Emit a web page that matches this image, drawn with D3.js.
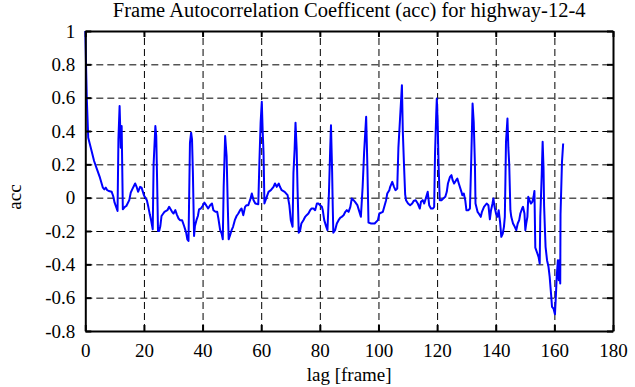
<!DOCTYPE html>
<html><head><meta charset="utf-8">
<script src="https://cdn.jsdelivr.net/npm/d3@7"></script>
<style>body{margin:0;background:#fff} text{font-family:'Liberation Serif','Times New Roman',serif;}</style>
</head><body>
<svg id="c" width="635" height="387"></svg>
<script>
const lags = [0,0.5,1,2,3,4,5,6,6.5,7,7.5,8,9,9.5,10,11,11.3,11.7,12.1,12.4,12.8,13.5,14,15,15.5,16,17,17.5,18,18.7,19.2,20,21,21.5,22,22.5,23,23.3,23.9,24.2,24.5,24.8,25.2,25.6,26,26.6,27,28,28.6,29.6,30.1,30.7,31.2,31.8,32.3,33,33.7,34.4,34.8,35.2,35.7,36.1,36.4,36.7,37.1,37.4,38,38.4,38.8,39.4,40,40.6,41.2,41.9,42.6,43.2,43.7,44.4,45,45.4,46,46.5,46.9,47.2,47.7,48.2,48.6,48.9,49.3,49.9,50.4,51,51.6,52.2,52.8,53.3,53.9,54.5,55,55.6,56.2,56.8,57.4,58,59,59.4,59.8,60.2,60.5,60.8,61.1,61.8,62.5,63.3,64.2,64.7,65.3,66,66.4,67,68,69,69.6,70.1,70.7,71,71.4,71.7,72.1,72.4,72.8,73.3,73.7,74.4,75,75.5,76.1,76.7,77.2,77.8,78.4,79,79.5,80.1,80.7,81,81.5,82.2,82.6,83.1,83.5,83.8,84.2,84.4,84.6,85.2,85.8,86.4,87,87.5,88.1,88.7,89.2,89.8,90.4,90.9,91.5,92,92.8,93.5,94,94.6,95.1,95.8,96.2,96.6,97.5,98.7,99.8,100.3,101.5,102.6,103,103.7,104,104.7,105.3,105.8,106.4,106.8,107.2,107.6,108,108.3,108.7,109.1,109.4,110.1,110.8,111.5,112,112.7,113.4,114.1,114.5,115.1,115.6,116.3,116.8,117.3,117.9,118.6,119,119.3,119.7,119.9,120.2,120.5,120.9,121.5,122.1,122.8,123.3,123.7,124.4,124.9,125.3,125.8,126.5,126.9,127.4,128.3,128.6,129.1,129.6,130,130.7,131.2,131.6,132.1,132.5,132.9,133.1,133.8,134.2,134.9,135.3,136,136.9,137.5,138,138.4,138.9,139.2,139.6,140.1,140.6,141,141.5,141.9,142.4,142.8,143.1,143.3,143.5,144,144.3,144.6,145,145.3,145.9,146.5,147,147.5,148,148.4,149,149.3,149.8,150.1,150.4,150.8,151.1,151.5,152,152.5,152.9,153.2,153.5,153.8,154.2,154.6,155,155.2,155.7,156,156.3,156.5,156.8,157,157.5,158,158.4,158.9,159.2,159.7,160.2,160.5,160.8,161.2,161.5,161.7,162,162.1,162.6,163];
const acc = [1.0,0.6,0.36,0.29,0.22,0.17,0.12,0.06,0.05,0.06,0.045,0.04,0.035,0.01,-0.03,-0.08,0.35,0.55,0.3,0.43,-0.07,-0.055,-0.05,-0.015,0.03,0.05,0.085,0.065,0.035,0.065,0.06,0.015,-0.015,-0.055,-0.1,-0.14,-0.19,0.2,0.43,0.37,0.1,-0.2,-0.2,-0.17,-0.11,-0.095,-0.085,-0.075,-0.055,-0.085,-0.095,-0.075,-0.1,-0.125,-0.135,-0.135,-0.17,-0.21,-0.25,-0.26,0.33,0.39,0.35,0.15,-0.23,-0.17,-0.13,-0.11,-0.07,-0.065,-0.05,-0.03,-0.045,-0.065,-0.045,-0.035,-0.075,-0.085,-0.085,-0.125,-0.195,-0.215,-0.25,0.065,0.37,0.25,-0.05,-0.25,-0.23,-0.195,-0.175,-0.135,-0.11,-0.095,-0.075,-0.065,-0.105,-0.055,-0.045,-0.045,-0.015,0.025,-0.015,-0.035,-0.04,0.22,0.45,0.575,0.4,0.27,-0.035,0,0.035,0.045,0.065,0.085,0.065,0.085,0.065,0.045,0.035,0.015,-0.045,-0.135,-0.175,0.15,0.29,0.45,0.29,0.05,-0.21,-0.195,-0.155,-0.135,-0.115,-0.105,-0.095,-0.075,-0.065,-0.065,-0.075,-0.035,-0.035,-0.045,-0.055,-0.075,-0.135,-0.175,-0.195,0.025,0.27,0.435,0.15,-0.05,-0.21,-0.195,-0.155,-0.135,-0.12,-0.115,-0.105,-0.085,-0.075,-0.085,-0.055,-0.005,-0.015,-0.025,-0.045,-0.085,-0.115,0.065,0.27,0.485,0.2,-0.15,-0.155,-0.155,-0.135,-0.095,-0.085,-0.015,0.025,0.045,0.065,0.095,0.065,0.045,0.055,0.3,0.425,0.55,0.675,0.4,0.2,0.02,-0.015,-0.035,-0.045,-0.035,-0.02,-0.015,-0.035,-0.065,-0.025,-0.015,-0.035,0.005,0.035,-0.045,-0.065,-0.065,-0.055,0.27,0.5,0.595,0.45,0.2,-0.015,-0.015,-0.005,0.005,0.035,0.085,0.125,0.135,0.105,0.085,0.105,0.115,0.085,0.035,0.015,0.025,-0.015,-0.075,-0.075,-0.065,0.195,0.565,0.45,0.2,-0.035,-0.085,-0.095,-0.115,-0.085,-0.055,-0.035,-0.045,-0.13,-0.075,-0.035,-0.005,-0.055,-0.095,-0.115,-0.075,-0.15,-0.235,-0.215,-0.175,-0.115,0.1,0.335,0.475,0.3,0.2,-0.075,-0.115,-0.155,-0.175,-0.195,-0.155,-0.135,-0.095,-0.065,-0.055,-0.095,-0.195,-0.155,-0.115,0.005,-0.015,-0.035,-0.025,0.005,0.04,-0.3,-0.315,-0.335,-0.355,-0.395,-0.115,0.145,0.335,0.18,-0.05,-0.2,-0.295,-0.375,-0.415,-0.475,-0.585,-0.655,-0.665,-0.7,-0.595,-0.475,-0.375,-0.495,-0.375,-0.515,-0.1,0.215,0.325];
const xTicks = [0,20,40,60,80,100,120,140,160,180];
const yTicks = [-0.8,-0.6,-0.4,-0.2,0,0.2,0.4,0.6,0.8,1];
const titleText = "Frame Autocorrelation Coefficent (acc) for highway-12-4";
const xLabelText = "lag [frame]";
const yLabelText = "acc";

const svg = d3.select("#c");
const L = 85.3, R = 613, T = 31, B = 331;
const x = d3.scaleLinear().domain([0,180]).range([L,R]);
const y = d3.scaleLinear().domain([-0.8,1]).range([B,T]);
const font = "'Liberation Serif','Times New Roman',serif";
const fs = 19;

svg.append("rect").attr("width",635).attr("height",387).attr("fill","#fff");

// grid
const gx = svg.append("g").attr("transform",`translate(0,${B})`)
  .call(d3.axisBottom(x).tickValues(xTicks.slice(1,-1)).tickSize(-(B-T)).tickFormat(""));
const gy = svg.append("g").attr("transform",`translate(${L},0)`)
  .call(d3.axisLeft(y).tickValues(yTicks.slice(1,-1)).tickSize(-(R-L)).tickFormat(""));
[gx,gy].forEach(g=>{g.select(".domain").remove();
  g.selectAll("line").attr("stroke","#000").attr("stroke-width",1).attr("stroke-dasharray","7,4");});

// line
const line = d3.line().x((d,i)=>x(lags[i])).y(d=>y(d));
svg.append("path").datum(acc).attr("d",line).attr("fill","none")
  .attr("stroke","#0000ff").attr("stroke-width",2).attr("stroke-linejoin","round");

// axes
function style(g){
  g.attr("font-family",font).attr("font-size",fs);
  g.selectAll("line,path").attr("stroke","#000").attr("stroke-width",2);
  g.selectAll("text").style("font-family",font).style("font-size",fs+"px").attr("fill","#000");}
const ab = svg.append("g").attr("transform",`translate(0,${B})`)
  .call(d3.axisBottom(x).tickValues(xTicks).tickSizeInner(-6).tickSizeOuter(0).tickPadding(13).tickFormat(d3.format("d")));
const at = svg.append("g").attr("transform",`translate(0,${T})`)
  .call(d3.axisTop(x).tickValues(xTicks).tickSizeInner(-6).tickSizeOuter(0).tickFormat(""));
const al = svg.append("g").attr("transform",`translate(${L},0)`)
  .call(d3.axisLeft(y).tickValues(yTicks).tickSizeInner(-6).tickSizeOuter(0).tickPadding(10).tickFormat(d=>String(+d.toFixed(1))));
const ar = svg.append("g").attr("transform",`translate(${R},0)`)
  .call(d3.axisRight(y).tickValues(yTicks).tickSizeInner(-6).tickSizeOuter(0).tickFormat(""));
[ab,at,al,ar].forEach(style);
ab.selectAll("text").attr("dy","0.71em");

svg.append("text").attr("x",(L+R)/2).attr("y",17).attr("text-anchor","middle")
  .style("font-family",font).style("font-size","20.5px").text(titleText);
svg.append("text").attr("x",(L+R)/2).attr("y",381).attr("text-anchor","middle")
  .style("font-family",font).style("font-size",fs+"px").text(xLabelText);
svg.append("text").attr("transform",`translate(21,197) rotate(-90)`).attr("text-anchor","middle")
  .style("font-family",font).style("font-size",fs+"px").text(yLabelText);
</script>
</body></html>
